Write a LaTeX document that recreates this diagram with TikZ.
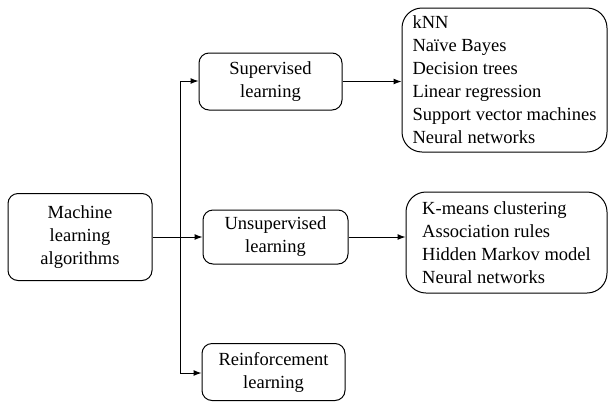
\documentclass[tikz,border=0pt]{standalone}
\usepackage{fontspec}
\setmainfont{Liberation Serif}
\usetikzlibrary{calc}
\usetikzlibrary{arrows.meta}

\begin{document}
\begin{tikzpicture}[
        x=1pt,y=-1pt,
        every node/.style={draw,rounded corners=10pt,line width=1pt,align=center,
            font=\fontsize{18.5}{23}\selectfont,inner sep=0pt},
        listbox/.style={rounded corners=20pt,align=left},
        >={Latex[length=8pt,width=6pt]},
        line width=1pt
    ]
        \useasboundingbox (0,0) rectangle (609,402);
        \node[minimum width=144pt,minimum height=87pt] (ml) at (80,237) {Machine\\learning\\algorithms};
        \node[minimum width=143pt,minimum height=57pt] (sup) at (270.5,81.5) {Supervised\\learning};
        \node[minimum width=145pt,minimum height=54pt] (unsup) at (275.5,237) {Unsupervised\\learning};
        \node[minimum width=143pt,minimum height=57pt] (rein) at (273.5,372) {Reinforcement\\learning};
        \node[listbox,minimum width=205pt,minimum height=144pt] (suplist) at (504.5,80)
            {kNN\\Naïve Bayes\\Decision trees\\Linear regression\\Support vector machines\\Neural networks};
        \node[listbox,minimum width=201pt,minimum height=101pt] (unsuplist) at (506.5,242.5)
            {K-means clustering\\Association rules\\Hidden Markov model\\Neural networks};
        % branch line
        \coordinate (top) at ($(ml.east -| 180,0) + (0,-156)$);
        \coordinate (bot) at ($(ml.east -| 180,0) + (0,136)$);
        \draw (top) -- (bot);
        \draw[->] (ml.east) -- (unsup.west);
        \draw[->] (top) -- (top -| sup.west);
        \draw[->] (bot) -- (bot -| rein.west);
        \draw[->] (sup.east) -- (sup.east -| suplist.west);
        \draw[->] (unsup.east) -- (unsup.east -| unsuplist.west);
    \end{tikzpicture}
\end{document}
